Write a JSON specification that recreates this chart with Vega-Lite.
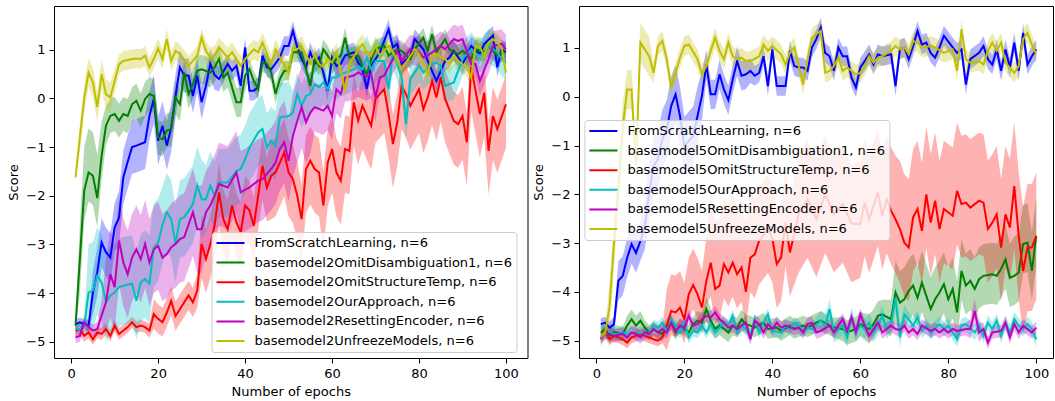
{
"$schema": "https://vega.github.io/schema/vega-lite/v6.json",
"padding": {"left": 7, "top": 5, "right": 0, "bottom": 0},
"bounds": "flush",
"spacing": 51,
"resolve": {"scale": {"color": "independent"}, "legend": {"color": "independent"}},
"config": {
 "font": "DejaVu Sans",
 "view": {"stroke": "#000000", "strokeWidth": 1},
 "axis": {"grid": false, "domain": false, "ticks": true, "tickColor": "#000000", "tickSize": 5, "tickWidth": 1, "labelFont": "DejaVu Sans", "labelFontSize": 13, "labelColor": "#000000", "labelPadding": 4, "titleFont": "DejaVu Sans", "titleFontSize": 13, "titleFontWeight": "normal", "titleColor": "#000000", "titlePadding": 5},
 "legend": {"orient": "none", "title": null, "symbolType": "stroke", "symbolSize": 784, "symbolStrokeWidth": 2, "symbolOpacity": 1, "labelFont": "DejaVu Sans", "labelFontSize": 13, "labelColor": "#000000", "labelLimit": 400, "labelOffset": 9, "fillColor": "rgba(255,255,255,0.8)", "strokeColor": "#cccccc", "cornerRadius": 3, "padding": 4, "clipHeight": 14, "rowPadding": 5.6}
},
"hconcat": [
{
 "width": 473.5, "height": 352,
 "data": {"format": {"type": "csv", "parse": {"x": "number", "y": "number", "u": "number", "d": "number"}},
 "values": "s,x,y,u,d\nA,1,-4.64,.1,-.1\nA,2,-4.6,.1,-.1\nA,3,-4.64,.1,-.1\nA,4,-4.67,.12,-.12\nA,5,-3.99,.45,-.45\nA,6,-3.57,.5,-.5\nA,7,-2.96,.5,-.5\nA,8,-3.16,.5,-.5\nA,9,-3.27,.5,-.5\nA,10,-2.65,.5,-.5\nA,11,-2.45,.55,-.55\nA,12,-1.62,.55,-.55\nA,13,-1.3,.55,-.55\nA,14,-1,.55,-.55\nA,15,-.97,.55,-.55\nA,17,-.9,.55,-.55\nA,18,-.36,.5,-.5\nA,19,-.01,.5,-.5\nA,20,-.87,.5,-.5\nA,21,-.56,.5,-.5\nA,22,-.97,.5,-.5\nA,23,-.6,.5,-.5\nA,24,.05,.45,-.45\nA,25,.64,.35,-.35\nA,26,.47,.35,-.35\nA,27,.47,.35,-.35\nA,28,.05,.35,-.35\nA,29,.47,.35,-.35\nA,30,-.08,.35,-.35\nA,31,.26,.3,-.3\nA,32,.71,.3,-.3\nA,33,.48,.3,-.3\nA,34,.4,.25,-.25\nA,36,.71,.2,-.2\nA,37,.57,.2,-.2\nA,38,.67,.2,-.2\nA,39,.26,.2,-.2\nA,40,1.05,.2,-.2\nA,41,.16,.2,-.2\nA,42,.16,.2,-.2\nA,43,.23,.2,-.2\nA,44,.88,.2,-.2\nA,45,.64,.2,-.2\nA,46,.6,.2,-.2\nA,48,.84,.2,-.2\nA,49,1.08,.2,-.2\nA,50,1.08,.2,-.2\nA,51,1.39,.2,-.2\nA,52,1.05,.2,-.2\nA,53,.81,.2,-.2\nA,54,.64,.2,-.2\nA,55,.95,.2,-.2\nA,56,.71,.2,-.2\nA,57,.84,.2,-.2\nA,58,.53,.2,-.2\nA,59,.16,.2,-.2\nA,60,.84,.2,-.2\nA,61,.67,.2,-.2\nA,62,.71,.2,-.2\nA,63,.88,.2,-.2\nA,65,.95,.2,-.2\nA,66,.74,.2,-.2\nA,67,.6,.2,-.2\nA,68,.2,.2,-.2\nA,69,.67,.2,-.2\nA,70,.81,.2,-.2\nA,71,.95,.2,-.2\nA,73,1.42,.2,-.2\nA,74,1.05,.2,-.2\nA,75,1.12,.2,-.2\nA,76,.71,.2,-.2\nA,78,.88,.2,-.2\nA,79,1.22,.2,-.2\nA,81,1.01,.2,-.2\nA,82,.77,.2,-.2\nA,84,.36,.2,-.2\nA,86,.77,.2,-.2\nA,87,.84,.2,-.2\nA,88,.98,.2,-.2\nA,90,.71,.2,-.2\nA,91,.88,.2,-.2\nA,92,1.08,.2,-.2\nA,94,.91,.2,-.2\nA,95,1.12,.2,-.2\nA,97,1.29,.2,-.2\nA,98,.64,.2,-.2\nA,99,1.01,.2,-.2\nA,100,.95,.2,-.2\nB,1,-4.67,.1,-.1\nB,2,-3.3,.7,-.7\nB,3,-1.9,.9,-.6\nB,4,-1.52,.9,-.6\nB,5,-1.59,.9,-.6\nB,6,-2.05,.9,-.6\nB,7,-1.18,.7,-.5\nB,8,-.56,.4,-.4\nB,9,-.36,.35,-.35\nB,10,-.32,.35,-.35\nB,11,-.46,.35,-.35\nB,12,-.32,.35,-.35\nB,13,-.36,.35,-.35\nB,14,-.12,.35,-.35\nB,15,-.05,.35,-.35\nB,16,-.25,.35,-.35\nB,17,-.01,.35,-.35\nB,18,.09,.35,-.35\nB,19,.05,.35,-.35\nB,20,-.8,.35,-.35\nB,21,-.84,.35,-.35\nB,22,-.66,.35,-.35\nB,23,-.63,.35,-.35\nB,24,.02,.35,-.35\nB,25,-.12,.35,-.35\nB,26,.53,.3,-.3\nB,27,.09,.3,-.3\nB,28,.29,.3,-.3\nB,29,.57,.3,-.3\nB,30,.6,.3,-.3\nB,32,.53,.3,-.3\nB,33,.64,.3,-.3\nB,34,.81,.3,-.3\nB,35,.43,.3,-.3\nB,36,.53,.3,-.3\nB,37,.23,.3,-.3\nB,38,-.08,.3,-.3\nB,39,-.08,.3,-.3\nB,40,.47,.3,-.3\nB,41,.6,.2,-.2\nB,42,.36,.2,-.2\nB,43,.19,.2,-.2\nB,44,.74,.2,-.2\nB,45,.71,.2,-.2\nB,46,.53,.2,-.2\nB,47,.09,.2,-.2\nB,48,.4,.2,-.2\nB,49,.57,.2,-.2\nB,50,.57,.2,-.2\nB,51,.95,.2,-.2\nB,53,.95,.2,-.2\nB,54,.6,.2,-.2\nB,55,.26,.2,-.2\nB,56,.81,.2,-.2\nB,57,.67,.2,-.2\nB,58,1.01,.2,-.2\nB,59,.88,.2,-.2\nB,60,.71,.2,-.2\nB,61,.81,.2,-.2\nB,62,.88,.2,-.2\nB,63,1.25,.2,-.2\nB,64,.84,.2,-.2\nB,66,.88,.2,-.2\nB,67,.67,.2,-.2\nB,68,.5,.2,-.2\nB,69,.81,.2,-.2\nB,70,1.01,.2,-.2\nB,72,1.08,.2,-.2\nB,73,.88,.2,-.2\nB,75,1.01,.2,-.2\nB,76,.98,.2,-.2\nB,78,.81,.2,-.2\nB,79,1.01,.2,-.2\nB,81,1.25,.2,-.2\nB,82,.98,.2,-.2\nB,83,1.32,.2,-.2\nB,84,.95,.2,-.2\nB,86,1.22,.2,-.2\nB,87,1.01,.2,-.2\nB,89,.91,.2,-.2\nB,90,.98,.2,-.2\nB,92,.81,.2,-.2\nB,93,1.01,.2,-.2\nB,95,.95,.2,-.2\nB,96,1.08,.2,-.2\nB,98,.88,.2,-.2\nB,99,.95,.2,-.2\nB,100,.95,.2,-.2\nC,1,-4.77,.12,-.12\nC,2,-4.74,.12,-.12\nC,3,-4.88,.12,-.12\nC,4,-4.81,.12,-.12\nC,5,-4.95,.12,-.12\nC,6,-4.81,.12,-.12\nC,7,-4.84,.12,-.12\nC,8,-4.74,.12,-.12\nC,9,-4.88,.12,-.12\nC,10,-4.67,.12,-.12\nC,11,-4.84,.12,-.12\nC,12,-4.77,.12,-.12\nC,13,-4.7,.12,-.12\nC,14,-4.6,.12,-.12\nC,15,-4.7,.12,-.12\nC,16,-4.67,.12,-.12\nC,17,-4.7,.12,-.12\nC,18,-4.77,.15,-.15\nC,19,-4.43,.3,-.3\nC,20,-4.53,.3,-.3\nC,21,-4.6,.3,-.3\nC,22,-4.4,.3,-.3\nC,23,-4.16,.3,-.3\nC,24,-4.47,.3,-.3\nC,25,-4.33,.3,-.3\nC,26,-4.19,.3,-.3\nC,27,-4.05,.3,-.3\nC,28,-4.19,.3,-.3\nC,29,-3.95,.35,-.35\nC,30,-2.99,.6,-.7\nC,31,-3.3,.6,-.7\nC,32,-3,.6,-.7\nC,33,-2.6,.6,-.7\nC,34,-1.93,.6,-.7\nC,35,-2.48,.6,-.7\nC,36,-2.69,.6,-.7\nC,37,-2.2,.6,-.7\nC,38,-2.55,.6,-.7\nC,39,-2.75,.6,-.7\nC,40,-2.2,.6,-.7\nC,41,-2.3,.6,-.7\nC,42,-2.62,.6,-.7\nC,43,-2,.6,-.7\nC,44,-1.38,.6,-.7\nC,45,-1.83,.6,-.7\nC,46,-1.59,.7,-.9\nC,47,-1.52,.7,-.9\nC,48,-1.32,.7,-.9\nC,49,-1.11,.7,-.9\nC,50,-1.52,.7,-.9\nC,51,-1.66,.7,-.9\nC,52,-2,.7,-.9\nC,53,-2.48,.7,-.9\nC,54,-1.45,.7,-.9\nC,55,-1.28,.7,-.9\nC,56,-1.45,.7,-.9\nC,57,-1.52,.7,-.9\nC,58,-2.2,.7,-.9\nC,59,-1.32,.7,-.9\nC,60,-1.04,.7,-.9\nC,61,-1.52,.7,-.9\nC,62,-1.69,.7,-.9\nC,63,-1.04,.7,-.9\nC,64,-1.08,.7,-.9\nC,65,-.08,.6,-.9\nC,66,-.46,.6,-.9\nC,67,-.15,.6,-.9\nC,68,-.36,.6,-.9\nC,69,-.56,.6,-.9\nC,70,-.01,.6,-.9\nC,72,.19,.6,-.9\nC,73,-.32,.6,-.9\nC,74,-.94,.6,-.9\nC,75,-.49,.6,-.9\nC,76,.26,.6,-.9\nC,77,.09,.6,-.9\nC,78,-.15,.6,-.9\nC,79,.02,.6,-.9\nC,80,.19,.6,-.9\nC,81,-.22,.6,-.9\nC,82,.02,.6,-.9\nC,83,.36,.6,-.9\nC,84,.02,.6,-.9\nC,85,.43,.6,-.9\nC,86,-.01,.6,-.9\nC,88,-.46,.6,-.9\nC,89,-.53,.6,-.9\nC,90,-.36,.6,-.9\nC,91,-.9,.6,-.9\nC,92,.64,.6,-.9\nC,93,.16,.6,-.9\nC,94,-.32,.6,-.9\nC,95,.12,.6,-.9\nC,96,-1.08,.6,-.9\nC,97,-.36,.6,-.9\nC,98,-.63,.6,-.9\nC,100,-.12,.6,-.9\nD,1,-4.74,.1,-.1\nD,2,-4.74,.1,-.1\nD,3,-4.67,.15,-.15\nD,4,-3.99,1,-.8\nD,5,-3.95,1,-.8\nD,6,-3.64,1,-.8\nD,7,-3.78,1,-.8\nD,8,-4.19,1,-.8\nD,9,-4.05,1,-.8\nD,10,-3.99,1,-.8\nD,11,-3.88,1,-.8\nD,12,-3.85,1,-.8\nD,14,-3.81,1,-.8\nD,15,-4.16,1,-.8\nD,16,-3.78,1,-.8\nD,17,-3.71,1,-.8\nD,18,-3.81,1,-.8\nD,19,-3.06,.9,-.8\nD,20,-2.96,.9,-.8\nD,21,-2.6,.8,-.8\nD,22,-2.34,.8,-.8\nD,23,-2.48,.8,-.8\nD,24,-2.99,.8,-.8\nD,25,-2.48,.8,-.8\nD,26,-2.44,.8,-.8\nD,27,-2.31,.8,-.8\nD,28,-2.17,.8,-.8\nD,29,-1.79,.8,-.8\nD,30,-2.07,.8,-.8\nD,31,-2.07,.7,-.7\nD,32,-1.79,.7,-.7\nD,33,-2,.7,-.7\nD,34,-1.73,.7,-.7\nD,36,-1.73,.7,-.7\nD,38,-1.49,.7,-.7\nD,39,-1.45,.7,-.7\nD,40,-1.25,.7,-.7\nD,41,-1.01,.7,-.7\nD,43,-.7,.7,-.7\nD,44,-.63,.7,-.7\nD,45,-1.01,.7,-.7\nD,46,-.87,.7,-.7\nD,47,-.97,.7,-.7\nD,48,-.39,.7,-.7\nD,50,-.36,.7,-.7\nD,51,-.29,.45,-.45\nD,52,.09,.45,-.45\nD,53,-.15,.45,-.45\nD,54,.05,.45,-.45\nD,55,.09,.45,-.45\nD,56,.29,.45,-.45\nD,57,.23,.45,-.45\nD,58,.33,.45,-.45\nD,59,.19,.45,-.45\nD,60,.43,.45,-.45\nD,61,.43,.45,-.45\nD,62,.5,.45,-.45\nD,63,.53,.45,-.45\nD,65,.6,.45,-.45\nD,66,.67,.45,-.45\nD,67,.6,.45,-.45\nD,68,.84,.45,-.45\nD,69,.6,.45,-.45\nD,70,.77,.45,-.45\nD,72,.77,.35,-.35\nD,73,.19,.35,-.35\nD,74,.95,.35,-.35\nD,75,.71,.35,-.35\nD,76,.43,.35,-.35\nD,77,-.53,.35,-.35\nD,78,.4,.35,-.35\nD,80,.67,.35,-.35\nD,81,.53,.35,-.35\nD,83,.71,.35,-.35\nD,84,.74,.35,-.35\nD,85,.67,.35,-.35\nD,86,.26,.35,-.35\nD,88,.33,.35,-.35\nD,89,.57,.35,-.35\nD,90,.81,.35,-.35\nD,92,1.01,.35,-.35\nD,93,.88,.35,-.35\nD,95,.91,.35,-.35\nD,96,1.08,.35,-.35\nD,98,.95,.35,-.35\nD,99,.81,.35,-.35\nD,100,.74,.35,-.35\nE,1,-4.91,.12,-.12\nE,2,-4.88,.12,-.12\nE,3,-4.6,.12,-.12\nE,4,-4.7,.12,-.12\nE,5,-4.77,.12,-.12\nE,6,-4.74,.15,-.15\nE,7,-4.46,.3,-.3\nE,8,-4.19,.9,-.6\nE,9,-3.61,.9,-.9\nE,10,-3.88,.9,-.9\nE,11,-2.92,.9,-.9\nE,12,-3.37,.9,-.9\nE,13,-3.61,.9,-.9\nE,14,-3.27,.9,-.9\nE,15,-3.1,.9,-.9\nE,16,-3.3,.9,-.9\nE,17,-2.99,.9,-.9\nE,18,-3.37,.9,-.9\nE,19,-3.1,.9,-.9\nE,20,-3.03,.9,-.9\nE,21,-3.27,.9,-.9\nE,22,-3.2,.9,-.9\nE,23,-3.06,.9,-.9\nE,24,-2.99,.9,-.9\nE,25,-2.89,.9,-.9\nE,26,-2.85,.9,-.9\nE,28,-2.34,.9,-.9\nE,29,-2.69,.9,-.9\nE,30,-2.69,.9,-.9\nE,31,-2.34,.85,-.85\nE,32,-2.2,.85,-.85\nE,33,-2,.85,-.85\nE,34,-1.76,.85,-.85\nE,36,-1.83,.85,-.85\nE,38,-1.52,.85,-.85\nE,39,-1.93,.85,-.85\nE,41,-1.83,.85,-.85\nE,43,-1.69,.85,-.85\nE,44,-1.66,.85,-.85\nE,45,-1.55,.85,-.85\nE,46,-1.45,.85,-.85\nE,47,-1.32,.85,-.85\nE,48,-1.04,.85,-.85\nE,49,-.9,.85,-.85\nE,50,-1.28,.85,-.85\nE,51,-.77,.85,-.85\nE,52,-.46,.85,-.85\nE,53,-.18,.85,-.85\nE,54,-.49,.85,-.85\nE,55,-.29,.85,-.85\nE,56,-.18,.5,-.5\nE,58,-.25,.5,-.5\nE,59,-.15,.5,-.5\nE,60,-.36,.5,-.5\nE,61,.19,.5,-.5\nE,62,.09,.5,-.5\nE,63,.43,.5,-.5\nE,65,.47,.5,-.5\nE,66,.53,.5,-.5\nE,68,.45,.5,-.5\nE,69,.5,.5,-.5\nE,70,.02,.5,-.5\nE,71,.43,.3,-.3\nE,72,.47,.3,-.3\nE,74,.81,.3,-.3\nE,75,.98,.3,-.3\nE,76,.77,.3,-.3\nE,78,1.01,.3,-.3\nE,80,.95,.3,-.3\nE,81,.84,.3,-.3\nE,82,.88,.3,-.3\nE,84,1.01,.3,-.3\nE,85,1.08,.3,-.3\nE,86,1.01,.3,-.3\nE,88,1.22,.3,-.3\nE,89,1.18,.3,-.3\nE,90,1.22,.3,-.3\nE,92,.71,.3,-.3\nE,93,.71,.3,-.3\nE,94,.36,.3,-.3\nE,96,.81,.3,-.3\nE,97,1.08,.3,-.3\nE,99,1.12,.3,-.3\nE,100,1.01,.3,-.3\nF,1,-1.62,.1,-.1\nF,2,-.8,.3,-.3\nF,3,0,.3,-.3\nF,4,.53,.3,-.3\nF,5,.33,.3,-.3\nF,6,-.18,.3,-.3\nF,7,.5,.3,-.3\nF,8,.09,.3,-.3\nF,9,.02,.3,-.3\nF,11,.7,.2,-.2\nF,12,.77,.2,-.2\nF,14,.81,.2,-.2\nF,15,.82,.2,-.2\nF,16,.81,.2,-.2\nF,17,.88,.2,-.2\nF,18,.64,.2,-.2\nF,19,.81,.2,-.2\nF,20,1.03,.2,-.2\nF,21,.81,.2,-.2\nF,22,1.22,.2,-.2\nF,23,.77,.2,-.2\nF,24,.98,.2,-.2\nF,25,.91,.2,-.2\nF,27,.67,.2,-.2\nF,29,.88,.2,-.2\nF,30,1.25,.2,-.2\nF,31,.98,.2,-.2\nF,32,.84,.2,-.2\nF,33,.88,.2,-.2\nF,34,1.05,.2,-.2\nF,36,.84,.2,-.2\nF,37,.95,.2,-.2\nF,39,.67,.2,-.2\nF,40,.81,.2,-.2\nF,42,1.01,.2,-.2\nF,43,.95,.2,-.2\nF,44,1.15,.2,-.2\nF,46,.71,.2,-.2\nF,47,1.01,.2,-.2\nF,48,.84,.2,-.2\nF,50,.53,.2,-.2\nF,51,1.05,.2,-.2\nF,52,1.01,.2,-.2\nF,53,1.08,.2,-.2\nF,55,.71,.2,-.2\nF,56,.88,.2,-.2\nF,57,.71,.2,-.2\nF,58,.64,.2,-.2\nF,59,.81,.2,-.2\nF,60,.74,.2,-.2\nF,61,.95,.2,-.2\nF,63,.16,.2,-.2\nF,64,.71,.2,-.2\nF,66,1.01,.2,-.2\nF,67,1.12,.2,-.2\nF,68,.95,.2,-.2\nF,69,.88,.2,-.2\nF,70,1.08,.2,-.2\nF,71,.88,.2,-.2\nF,73,1.08,.2,-.2\nF,74,.95,.2,-.2\nF,76,.6,.2,-.2\nF,77,.74,.2,-.2\nF,79,1.01,.2,-.2\nF,80,.91,.2,-.2\nF,81,.71,.2,-.2\nF,82,.5,.2,-.2\nF,83,.88,.2,-.2\nF,84,.91,.2,-.2\nF,86,.81,.2,-.2\nF,87,.71,.2,-.2\nF,88,.88,.2,-.2\nF,89,.77,.2,-.2\nF,91,.64,.2,-.2\nF,92,.43,.2,-.2\nF,93,1.08,.2,-.2\nF,94,1.05,.2,-.2\nF,95,.88,.2,-.2\nF,96,1.15,.2,-.2\nF,97,1.22,.2,-.2\nF,99,1.05,.2,-.2\nF,100,.53,.2,-.2"},
 "encoding": {
  "x": {"field": "x", "type": "quantitative", "scale": {"domain": [-3.95, 104.95], "nice": false, "zero": false}, "axis": {"title": "Number of epochs", "values": [0, 20, 40, 60, 80, 100]}},
  "y": {"field": "y", "type": "quantitative", "scale": {"domain": [-5.335, 1.9], "nice": false, "zero": false}, "axis": {"title": "Score", "values": [-5, -4, -3, -2, -1, 0, 1]}},
  "color": {"field": "s", "type": "nominal", "scale": {"domain": ["A", "B", "C", "D", "E", "F"], "range": ["#0000ff", "#008000", "#ff0000", "#00bfbf", "#bf00bf", "#bfbf00"]},
    "legend": {"orient": "none", "legendX": 157.5, "legendY": 226, "symbolType": "stroke", "labelExpr": "datum.label=='A'?'FromScratchLearning, n=6':datum.label=='B'?'basemodel2OmitDisambiguation1, n=6':datum.label=='C'?'basemodel2OmitStructureTemp, n=6':datum.label=='D'?'basemodel2OurApproach, n=6':datum.label=='E'?'basemodel2ResettingEncoder, n=6':'basemodel2UnfreezeModels, n=6'"}}
 },
 "layer": [
  {"mark": {"type": "errorband", "clip": true, "band": {"opacity": 0.3}},
   "encoding": {"yError": {"field": "u"}, "yError2": {"field": "d"}}},
  {"mark": {"type": "line", "strokeWidth": 2, "clip": true}}
 ]
},
{
 "width": 474, "height": 352,
 "data": {"format": {"type": "csv", "parse": {"x": "number", "y": "number", "u": "number", "d": "number"}},
 "values": "s,x,y,u,d\nA,1,-4.66,.12,-.12\nA,2,-4.63,.12,-.12\nA,3,-4.73,.12,-.12\nA,4,-4.66,.15,-.15\nA,5,-3.77,.4,-.4\nA,6,-3.67,.4,-.4\nA,7,-3.3,.4,-.4\nA,8,-3.02,.4,-.4\nA,9,-3.2,.4,-.4\nA,10,-2.96,.4,-.4\nA,11,-2.68,.45,-.45\nA,12,-1.96,.6,-.6\nA,13,-1.42,.6,-.6\nA,14,-1.28,.6,-.6\nA,15,-.87,.6,-.6\nA,16,-.67,.6,-.6\nA,17,-.19,.6,-.6\nA,18,.05,.6,-.6\nA,19,-.39,.6,-.6\nA,20,-1.01,.6,-.6\nA,22,-.8,.6,-.6\nA,23,-.39,.6,-.6\nA,24,.02,.5,-.5\nA,25,.66,.3,-.3\nA,26,.05,.3,-.3\nA,27,.05,.3,-.3\nA,28,.46,.3,-.3\nA,29,.15,.3,-.3\nA,30,-.07,.3,-.3\nA,31,.36,.3,-.3\nA,32,.73,.3,-.3\nA,33,.43,.3,-.3\nA,34,.46,.3,-.3\nA,35,.53,.25,-.25\nA,36,.43,.2,-.2\nA,37,.49,.2,-.2\nA,38,.83,.2,-.2\nA,39,.22,.2,-.2\nA,40,.97,.2,-.2\nA,41,.22,.2,-.2\nA,43,.22,.2,-.2\nA,44,.94,.2,-.2\nA,45,.63,.2,-.2\nA,46,.6,.2,-.2\nA,47,.6,.2,-.2\nA,48,.53,.2,-.2\nA,49,1.01,.2,-.2\nA,50,1.18,.2,-.2\nA,51,1.42,.2,-.2\nA,52,.9,.2,-.2\nA,53,.83,.2,-.2\nA,54,.53,.2,-.2\nA,55,1.01,.2,-.2\nA,56,.83,.2,-.2\nA,57,.83,.2,-.2\nA,58,.39,.2,-.2\nA,59,.19,.2,-.2\nA,60,.6,.2,-.2\nA,61,.73,.2,-.2\nA,62,.87,.2,-.2\nA,63,.66,.2,-.2\nA,64,.87,.2,-.2\nA,65,.83,.2,-.2\nA,67,.87,.2,-.2\nA,68,.22,.2,-.2\nA,69,.97,.2,-.2\nA,70,1.01,.2,-.2\nA,71,.77,.2,-.2\nA,72,1.04,.2,-.2\nA,73,1.35,.2,-.2\nA,74,1.07,.2,-.2\nA,75,1.11,.2,-.2\nA,76,.9,.2,-.2\nA,77,.8,.2,-.2\nA,78,1.01,.2,-.2\nA,79,1.25,.2,-.2\nA,81,1.01,.2,-.2\nA,82,.9,.2,-.2\nA,83,.97,.2,-.2\nA,84,.25,.2,-.2\nA,85,.77,.2,-.2\nA,87,.9,.2,-.2\nA,88,1.04,.2,-.2\nA,89,.77,.2,-.2\nA,90,.66,.2,-.2\nA,91,.97,.2,-.2\nA,92,.53,.2,-.2\nA,93,.97,.2,-.2\nA,94,.6,.2,-.2\nA,95,1.11,.2,-.2\nA,96,.53,.2,-.2\nA,97,1.31,.2,-.2\nA,98,.66,.2,-.2\nA,99,.83,.2,-.2\nA,100,.97,.2,-.2\nB,1,-4.83,.15,-.15\nB,2,-4.76,.15,-.15\nB,3,-4.9,.15,-.15\nB,4,-4.83,.15,-.15\nB,6,-4.86,.15,-.15\nB,7,-4.69,.2,-.2\nB,8,-4.56,.2,-.2\nB,9,-4.69,.2,-.2\nB,10,-4.59,.2,-.2\nB,11,-4.73,.15,-.15\nB,12,-4.83,.15,-.15\nB,13,-4.76,.15,-.15\nB,14,-4.83,.15,-.15\nB,15,-4.86,.15,-.15\nB,16,-4.69,.15,-.15\nB,17,-4.63,.15,-.15\nB,18,-4.83,.15,-.15\nB,19,-4.69,.15,-.15\nB,20,-4.76,.15,-.15\nB,21,-4.83,.15,-.15\nB,22,-4.66,.15,-.15\nB,23,-4.59,.2,-.2\nB,24,-4.63,.2,-.2\nB,25,-4.35,.25,-.25\nB,26,-4.59,.25,-.25\nB,27,-4.76,.2,-.2\nB,28,-4.69,.2,-.2\nB,29,-4.76,.2,-.2\nB,30,-4.83,.2,-.2\nB,31,-4.69,.2,-.2\nB,32,-4.73,.2,-.2\nB,33,-4.56,.2,-.2\nB,34,-4.66,.2,-.2\nB,35,-4.69,.2,-.2\nB,36,-4.73,.2,-.2\nB,38,-4.63,.2,-.2\nB,39,-4.76,.2,-.2\nB,41,-4.73,.2,-.2\nB,42,-4.8,.2,-.2\nB,44,-4.69,.2,-.2\nB,45,-4.76,.2,-.2\nB,47,-4.69,.2,-.2\nB,48,-4.73,.2,-.2\nB,50,-4.63,.2,-.2\nB,51,-4.59,.2,-.2\nB,53,-4.69,.2,-.2\nB,54,-4.73,.2,-.2\nB,56,-4.76,.25,-.25\nB,57,-4.83,.25,-.25\nB,59,-4.76,.25,-.25\nB,60,-4.66,.25,-.25\nB,62,-4.76,.3,-.3\nB,63,-4.66,.3,-.3\nB,64,-4.49,.3,-.3\nB,65,-4.46,.3,-.3\nB,67,-4.56,.4,-.35\nB,68,-4.01,.65,-.6\nB,69,-4.22,.65,-.6\nB,70,-4.15,.65,-.6\nB,71,-3.98,.65,-.6\nB,72,-3.87,.65,-.6\nB,73,-4.12,.65,-.6\nB,74,-3.81,.65,-.6\nB,75,-4.08,.65,-.6\nB,76,-4.35,.65,-.6\nB,77,-4.15,.65,-.6\nB,78,-4.01,.65,-.6\nB,79,-3.84,.65,-.6\nB,80,-4.15,.65,-.6\nB,81,-3.94,.65,-.6\nB,82,-4.42,.65,-.6\nB,83,-3.57,.65,-.6\nB,84,-3.87,.65,-.6\nB,85,-3.77,.65,-.6\nB,86,-3.94,.65,-.6\nB,87,-3.74,.65,-.6\nB,88,-3.67,.65,-.6\nB,90,-3.64,.65,-.6\nB,91,-3.67,.65,-.6\nB,92,-3.53,.7,-.6\nB,93,-3.33,.7,-.6\nB,94,-3.71,.7,-.6\nB,95,-3.67,.8,-.6\nB,96,-3.6,.8,-.6\nB,97,-3.02,.8,-.6\nB,98,-2.99,.8,-.6\nB,99,-3.57,.8,-.6\nB,100,-2.85,.8,-.6\nC,1,-4.93,.12,-.12\nC,2,-4.83,.12,-.12\nC,3,-4.97,.12,-.12\nC,4,-4.9,.12,-.12\nC,5,-4.93,.12,-.12\nC,6,-4.97,.12,-.12\nC,7,-5.04,.12,-.12\nC,8,-4.93,.12,-.12\nC,9,-4.9,.12,-.12\nC,10,-4.87,.12,-.12\nC,12,-4.93,.12,-.12\nC,13,-4.97,.12,-.12\nC,14,-5,.12,-.12\nC,15,-4.93,.2,-.12\nC,16,-4.69,.75,-.5\nC,17,-4.39,.75,-.5\nC,18,-4.42,.75,-.5\nC,19,-4.32,.75,-.5\nC,20,-4.56,.75,-.5\nC,21,-4.05,.75,-.5\nC,22,-3.86,.75,-.5\nC,23,-4.05,.75,-.5\nC,24,-4.32,.75,-.5\nC,25,-3.77,.9,-.5\nC,26,-3.4,1.4,-.7\nC,27,-3.94,1.4,-.7\nC,28,-3.87,1.4,-.7\nC,29,-3.43,1.4,-.7\nC,30,-3.6,1.4,-.7\nC,31,-3.4,1.4,-.7\nC,32,-3.64,1.4,-.7\nC,33,-3.5,1.4,-.7\nC,34,-4,1.4,-.7\nC,35,-3.3,1.4,-.7\nC,36,-3.23,1.1,-.9\nC,37,-2.95,1.1,-.9\nC,39,-2.71,1.1,-.9\nC,40,-2.9,1.1,-.9\nC,41,-3.43,1.1,-.9\nC,42,-3.29,1.1,-.9\nC,43,-2.58,1.1,-.9\nC,44,-3.19,1.1,-.9\nC,46,-2.4,1.2,-1.2\nC,48,-2.1,1.2,-1.2\nC,50,-2.5,1.2,-1.2\nC,52,-2,1.2,-1.2\nC,54,-2.4,1.2,-1.2\nC,56,-2.2,1.2,-1.2\nC,58,-2.6,1.2,-1.2\nC,60,-2.61,1.3,-1.1\nC,61,-2.17,1.3,-1.1\nC,62,-2.51,1.3,-1.1\nC,64,-1.96,1.3,-1.1\nC,65,-2.44,1.3,-1.1\nC,66,-2.1,1.3,-1.1\nC,67,-2.34,1.3,-1.1\nC,68,-2.51,1.3,-1.1\nC,69,-2.71,1.4,-1.1\nC,70,-2.99,1.4,-1.1\nC,71,-3.09,1.4,-1.1\nC,72,-2.47,1.4,-1.1\nC,73,-2.3,1.4,-1.1\nC,74,-2.75,1.4,-1.1\nC,75,-2,1.4,-1.1\nC,76,-2.58,1.4,-1.1\nC,77,-2.13,1.4,-1.1\nC,78,-2.71,1.4,-1.1\nC,79,-2.3,1.4,-1.1\nC,81,-2.44,1.4,-1.1\nC,82,-1.93,1.4,-1.1\nC,83,-2.2,1.4,-1.1\nC,84,-2.17,1.4,-1.1\nC,85,-2.27,1.4,-1.1\nC,87,-2.13,1.4,-1.1\nC,88,-2.17,1.4,-1.1\nC,89,-2.71,1.4,-1.1\nC,90,-2.58,1.4,-1.1\nC,91,-2.41,1.4,-1.1\nC,92,-3.09,1.4,-1.1\nC,93,-2.41,1.4,-1.1\nC,94,-2.68,1.4,-1.1\nC,95,-1.83,1.3,-1.3\nC,96,-2.85,1.3,-1.3\nC,97,-3.57,1.3,-1.3\nC,98,-3.09,1.3,-1.3\nC,99,-3.09,1.3,-1.3\nC,100,-2.85,1.3,-1.3\nD,1,-4.93,.12,-.12\nD,2,-4.86,.12,-.12\nD,3,-4.83,.12,-.12\nD,4,-4.86,.12,-.12\nD,5,-4.86,.12,-.12\nD,6,-4.83,.12,-.12\nD,7,-4.86,.12,-.12\nD,8,-4.83,.12,-.12\nD,9,-4.86,.12,-.12\nD,10,-4.83,.12,-.12\nD,11,-4.86,.12,-.12\nD,12,-4.83,.12,-.12\nD,13,-4.69,.12,-.12\nD,14,-4.73,.12,-.12\nD,15,-4.63,.12,-.12\nD,16,-4.83,.12,-.12\nD,17,-4.56,.12,-.12\nD,18,-4.69,.12,-.12\nD,19,-4.83,.12,-.12\nD,20,-4.63,.12,-.12\nD,21,-4.93,.12,-.12\nD,22,-4.8,.12,-.12\nD,23,-4.83,.12,-.12\nD,24,-4.69,.12,-.12\nD,25,-4.83,.12,-.12\nD,26,-4.66,.12,-.12\nD,27,-4.83,.12,-.12\nD,28,-4.73,.12,-.12\nD,29,-4.63,.12,-.12\nD,30,-4.69,.12,-.12\nD,31,-4.49,.12,-.12\nD,32,-4.83,.12,-.12\nD,33,-4.69,.12,-.12\nD,34,-4.76,.12,-.12\nD,35,-4.9,.12,-.12\nD,36,-4.56,.12,-.12\nD,37,-4.83,.12,-.12\nD,38,-4.63,.12,-.12\nD,39,-4.46,.12,-.12\nD,40,-4.8,.12,-.12\nD,42,-4.83,.12,-.12\nD,43,-4.69,.12,-.12\nD,44,-4.76,.12,-.12\nD,45,-4.63,.12,-.12\nD,46,-4.69,.12,-.12\nD,47,-4.8,.12,-.12\nD,48,-4.73,.12,-.12\nD,49,-4.76,.12,-.12\nD,51,-4.59,.2,-.2\nD,52,-4.69,.2,-.2\nD,53,-4.35,.2,-.2\nD,54,-4.83,.2,-.2\nD,55,-4.76,.2,-.2\nD,56,-4.69,.2,-.2\nD,57,-4.93,.2,-.2\nD,58,-4.52,.2,-.2\nD,59,-4.83,.2,-.2\nD,60,-4.69,.2,-.2\nD,61,-4.76,.2,-.2\nD,62,-4.63,.2,-.2\nD,63,-4.83,.2,-.2\nD,64,-4.69,.2,-.2\nD,65,-4.49,.2,-.2\nD,66,-4.76,.2,-.2\nD,67,-4.66,.2,-.2\nD,68,-4.12,.25,-.25\nD,69,-4.93,.2,-.2\nD,70,-4.46,.2,-.2\nD,71,-4.56,.15,-.15\nD,72,-4.69,.15,-.15\nD,73,-4.52,.15,-.15\nD,74,-4.8,.15,-.15\nD,75,-4.69,.15,-.15\nD,76,-4.83,.15,-.15\nD,78,-4.66,.15,-.15\nD,79,-4.76,.15,-.15\nD,80,-4.69,.15,-.15\nD,81,-4.83,.15,-.15\nD,82,-4.97,.15,-.15\nD,83,-4.69,.15,-.15\nD,84,-4.66,.15,-.15\nD,86,-4.83,.15,-.15\nD,87,-4.69,.15,-.15\nD,88,-4.9,.15,-.15\nD,89,-4.63,.15,-.15\nD,90,-4.76,.15,-.15\nD,91,-4.59,.15,-.15\nD,92,-4.9,.15,-.15\nD,93,-4.63,.15,-.15\nD,94,-4.83,.15,-.15\nD,95,-4.56,.15,-.15\nD,96,-4.69,.15,-.15\nD,97,-4.76,.15,-.15\nD,98,-4.66,.15,-.15\nD,99,-4.76,.15,-.15\nD,100,-4.97,.15,-.15\nE,1,-4.97,.13,-.13\nE,2,-4.83,.13,-.13\nE,3,-4.86,.13,-.13\nE,4,-4.9,.13,-.13\nE,6,-4.86,.13,-.13\nE,7,-4.93,.13,-.13\nE,8,-4.83,.13,-.13\nE,9,-4.86,.13,-.13\nE,10,-4.93,.13,-.13\nE,11,-4.83,.13,-.13\nE,12,-4.86,.13,-.13\nE,13,-4.76,.13,-.13\nE,14,-4.83,.13,-.13\nE,15,-4.76,.13,-.13\nE,16,-4.83,.13,-.13\nE,17,-4.63,.13,-.13\nE,18,-4.8,.13,-.13\nE,19,-4.69,.13,-.13\nE,20,-4.73,.13,-.13\nE,21,-4.49,.13,-.13\nE,22,-4.69,.13,-.13\nE,23,-4.66,.13,-.13\nE,24,-4.56,.13,-.13\nE,25,-4.49,.13,-.13\nE,26,-4.52,.13,-.13\nE,27,-4.42,.13,-.13\nE,28,-4.56,.13,-.13\nE,29,-4.63,.13,-.13\nE,30,-4.73,.13,-.13\nE,31,-4.69,.13,-.13\nE,32,-4.76,.13,-.13\nE,33,-4.69,.13,-.13\nE,34,-4.63,.13,-.13\nE,35,-4.97,.13,-.13\nE,36,-4.59,.13,-.13\nE,37,-4.66,.13,-.13\nE,38,-4.83,.13,-.13\nE,39,-4.66,.13,-.13\nE,40,-4.76,.13,-.13\nE,41,-4.63,.13,-.13\nE,42,-4.73,.13,-.13\nE,43,-4.69,.13,-.13\nE,45,-4.76,.13,-.13\nE,46,-4.73,.13,-.13\nE,47,-4.83,.13,-.13\nE,48,-4.66,.13,-.13\nE,49,-4.63,.13,-.13\nE,50,-4.83,.13,-.13\nE,51,-4.8,.13,-.13\nE,53,-4.69,.13,-.13\nE,54,-4.83,.13,-.13\nE,55,-4.69,.13,-.13\nE,56,-4.56,.13,-.13\nE,57,-4.8,.13,-.13\nE,58,-4.52,.13,-.13\nE,59,-4.83,.13,-.13\nE,60,-4.46,.13,-.13\nE,61,-4.69,.13,-.13\nE,62,-4.9,.13,-.13\nE,64,-4.63,.13,-.13\nE,65,-4.83,.13,-.13\nE,66,-4.76,.13,-.13\nE,67,-4.69,.13,-.13\nE,68,-4.76,.13,-.13\nE,69,-4.78,.13,-.13\nE,70,-4.69,.13,-.13\nE,71,-4.83,.13,-.13\nE,72,-4.76,.13,-.13\nE,73,-4.86,.13,-.13\nE,74,-4.69,.13,-.13\nE,76,-4.8,.13,-.13\nE,77,-4.76,.13,-.13\nE,78,-4.83,.13,-.13\nE,79,-4.76,.13,-.13\nE,80,-4.83,.13,-.13\nE,81,-4.76,.13,-.13\nE,82,-4.8,.13,-.13\nE,84,-4.76,.13,-.13\nE,85,-4.76,.2,-.2\nE,86,-4.39,.25,-.25\nE,87,-4.83,.2,-.2\nE,88,-4.76,.13,-.13\nE,89,-5.04,.13,-.13\nE,90,-4.83,.13,-.13\nE,92,-4.8,.13,-.13\nE,93,-4.63,.13,-.13\nE,94,-4.93,.13,-.13\nE,95,-4.66,.13,-.13\nE,96,-4.83,.13,-.13\nE,97,-4.69,.13,-.13\nE,98,-4.76,.13,-.13\nE,99,-4.83,.13,-.13\nE,100,-4.73,.13,-.13\nF,1,-4.93,.1,-.1\nF,2,-4.83,.1,-.1\nF,3,-4.3,.5,-.5\nF,4,-3,.5,-.5\nF,5,-1.9,.5,-.5\nF,6,-.6,.5,-.5\nF,7,.15,.4,-.4\nF,8,.15,.4,-.4\nF,9,-1.4,.4,-.4\nF,10,1.11,.4,-.4\nF,12,.83,.4,-.4\nF,13,.49,.2,-.2\nF,14,1.04,.2,-.2\nF,15,1.14,.2,-.2\nF,16,.77,.2,-.2\nF,17,.19,.2,-.2\nF,18,.49,.2,-.2\nF,19,.8,.2,-.2\nF,20,1.04,.2,-.2\nF,21,1.07,.2,-.2\nF,23,.77,.2,-.2\nF,24,.46,.2,-.2\nF,25,.63,.2,-.2\nF,26,.94,.2,-.2\nF,27,1.21,.2,-.2\nF,28,.94,.2,-.2\nF,29,.77,.2,-.2\nF,30,1.11,.2,-.2\nF,31,.83,.2,-.2\nF,32,.77,.2,-.2\nF,33,.8,.2,-.2\nF,34,.73,.2,-.2\nF,35,.73,.2,-.2\nF,37,.83,.2,-.2\nF,38,1.07,.2,-.2\nF,39,.94,.2,-.2\nF,40,1.04,.2,-.2\nF,42,.87,.2,-.2\nF,43,.66,.2,-.2\nF,44,.9,.2,-.2\nF,45,1.01,.2,-.2\nF,46,.63,.2,-.2\nF,47,.25,.2,-.2\nF,48,.77,.2,-.2\nF,49,1.21,.2,-.2\nF,50,1.28,.2,-.2\nF,51,1.35,.2,-.2\nF,52,.49,.2,-.2\nF,53,.53,.2,-.2\nF,54,.63,.2,-.2\nF,55,.8,.2,-.2\nF,56,.53,.2,-.2\nF,57,.6,.2,-.2\nF,59,.46,.2,-.2\nF,60,.49,.2,-.2\nF,61,.63,.2,-.2\nF,62,.83,.2,-.2\nF,63,.7,.2,-.2\nF,64,.8,.2,-.2\nF,65,.83,.2,-.2\nF,67,.94,.2,-.2\nF,68,1.04,.2,-.2\nF,69,.97,.2,-.2\nF,70,1.01,.2,-.2\nF,71,.87,.2,-.2\nF,72,1.14,.2,-.2\nF,73,1.11,.2,-.2\nF,74,1.01,.2,-.2\nF,76,1.04,.2,-.2\nF,77,1.01,.2,-.2\nF,79,.9,.2,-.2\nF,81,.97,.2,-.2\nF,82,.53,.2,-.2\nF,83,1.38,.2,-.2\nF,84,.77,.2,-.2\nF,85,.7,.2,-.2\nF,87,.73,.2,-.2\nF,88,.66,.2,-.2\nF,89,.94,.2,-.2\nF,90,1.11,.2,-.2\nF,91,.94,.2,-.2\nF,92,1.11,.2,-.2\nF,93,.7,.2,-.2\nF,95,.49,.2,-.2\nF,96,.63,.2,-.2\nF,97,1.18,.2,-.2\nF,98,1.31,.2,-.2\nF,99,1.07,.2,-.2\nF,100,.87,.2,-.2"},
 "encoding": {
  "x": {"field": "x", "type": "quantitative", "scale": {"domain": [-3.95, 103.8], "nice": false, "zero": false}, "axis": {"title": "Number of epochs", "values": [0, 20, 40, 60, 80, 100]}},
  "y": {"field": "y", "type": "quantitative", "scale": {"domain": [-5.354, 1.86], "nice": false, "zero": false}, "axis": {"title": "Score", "values": [-5, -4, -3, -2, -1, 0, 1]}},
  "color": {"field": "s", "type": "nominal", "scale": {"domain": ["A", "B", "C", "D", "E", "F"], "range": ["#0000ff", "#008000", "#ff0000", "#00bfbf", "#bf00bf", "#bfbf00"]},
    "legend": {"orient": "none", "legendX": 5.4, "legendY": 114, "symbolType": "stroke", "labelExpr": "datum.label=='A'?'FromScratchLearning, n=6':datum.label=='B'?'basemodel5OmitDisambiguation1, n=6':datum.label=='C'?'basemodel5OmitStructureTemp, n=6':datum.label=='D'?'basemodel5OurApproach, n=6':datum.label=='E'?'basemodel5ResettingEncoder, n=6':'basemodel5UnfreezeModels, n=6'"}}
 },
 "layer": [
  {"mark": {"type": "errorband", "clip": true, "band": {"opacity": 0.3}},
   "encoding": {"yError": {"field": "u"}, "yError2": {"field": "d"}}},
  {"mark": {"type": "line", "strokeWidth": 2, "clip": true}}
 ]
}
]
}
